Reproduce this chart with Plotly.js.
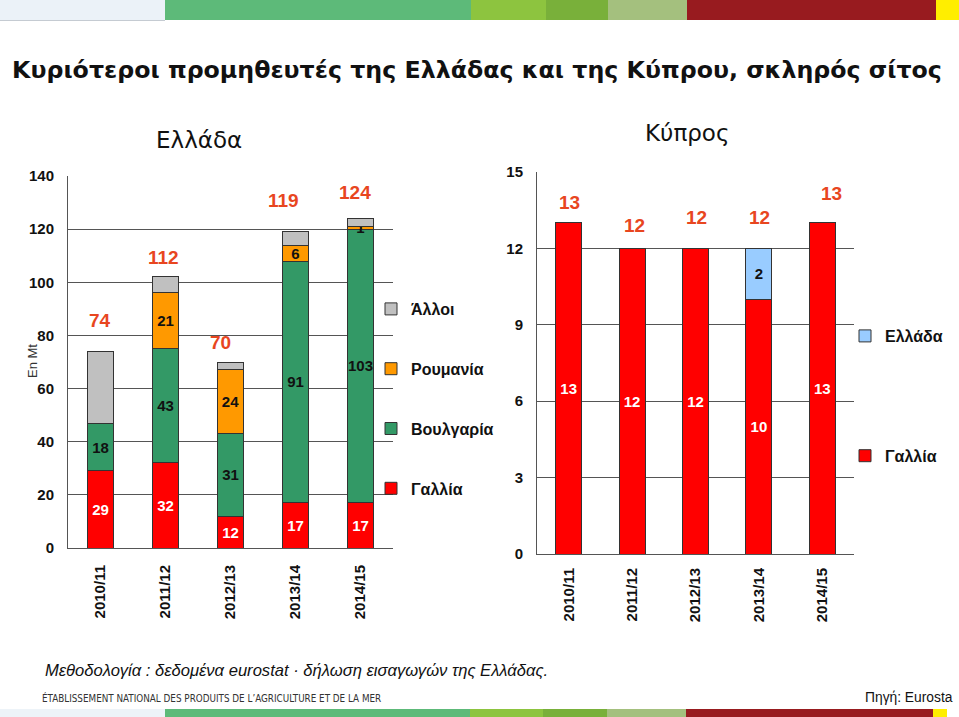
<!DOCTYPE html>
<html>
<head>
<meta charset="utf-8">
<script src="https://cdn.plot.ly/plotly-3.0.1.min.js"></script>
<style>html,body{margin:0;padding:0;background:#fff;}#chart{width:959px;height:717px;}</style>
</head>
<body>
<div id="chart"></div>
<script>
// ---- data ----
const seasons = ['2010/11', '2011/12', '2012/13', '2013/14', '2014/15'];
// Ελλάδα (Greece) suppliers
const grFrance   = [29, 32, 12, 17, 17];
const grBulgaria = [18, 43, 31, 91, 103];
const grRomania  = [0, 21, 24, 6, 1];
const grOthers   = [27, 6, 3, 5, 3];
const grTotals   = [74, 112, 70, 119, 124];
// Κύπρος (Cyprus) suppliers
const cyFrance   = [13, 12, 12, 10, 13];
const cyGreece   = [0, 0, 0, 2, 0];
const cyTotals   = [13, 12, 12, 12, 13];
// tick values
const grTicks = [0, 20, 40, 60, 80, 100, 120, 140];
const cyTicks = [0, 3, 6, 9, 12, 15];

// ---- presentation ----
const W = 959, H = 717;
const px = v => v / W;
const py = v => 1 - v / H;
const AR = 'Liberation Sans, Arial, sans-serif';
const TOTAL_COLOR = '#E8461F';
const GRID = '#555555';
// label placement (data-y for totals, pixel shift)
const grLabelY  = [85.8, 109.5, 77.5, 130.7, 133.7];
const grLabelDx = [-1, -2, -10, -12, -6];
const cyLabelY  = [13.8, 12.9, 13.2, 13.2, 14.15];
const cyLabelDx = [1, 2, 1, 1, 9];

const lbl = arr => arr.map(v => v ? String(v) : '');
const outline = {color: '#333333', width: 1};

function bar(name, y, color, xa, ya, legend, rank, text, tcolor) {
  return {
    type: 'bar', name: name, x: seasons, y: y,
    xaxis: xa, yaxis: ya, legend: legend, legendgroup: name + xa, legendrank: rank,
    marker: {color: color, line: outline},
    text: text, textposition: 'inside', insidetextanchor: 'middle',
    textangle: 0, constraintext: 'none',
    textfont: {family: AR, size: 15, color: tcolor, weight: 'bold'},
    hoverinfo: 'name+y'
  };
}

const traces = [
  bar('Γαλλία', grFrance, '#FF0000', 'x', 'y', 'legend', 4, lbl(grFrance), '#ffffff'),
  bar('Βουλγαρία', grBulgaria, '#339966', 'x', 'y', 'legend', 3, lbl(grBulgaria), '#111111'),
  bar('Ρουμανία', grRomania, '#FF9900', 'x', 'y', 'legend', 2, lbl(grRomania), '#111111'),
  bar('Άλλοι', grOthers, '#C0C0C0', 'x', 'y', 'legend', 1, seasons.map(() => ''), '#111111'),
  bar('Γαλλία', cyFrance, '#FF0000', 'x2', 'y2', 'legend2', 2, lbl(cyFrance), '#ffffff'),
  bar('Ελλάδα', cyGreece, '#99CCFF', 'x2', 'y2', 'legend2', 1, lbl(cyGreece), '#111111')
];

const annotations = [];
seasons.forEach((s, i) => {
  annotations.push({xref: 'x', yref: 'y', x: s, y: grLabelY[i], xshift: grLabelDx[i],
    text: String(grTotals[i]), showarrow: false,
    font: {family: AR, size: 19, color: TOTAL_COLOR, weight: 'bold'}});
  annotations.push({xref: 'x2', yref: 'y2', x: s, y: cyLabelY[i], xshift: cyLabelDx[i],
    text: String(cyTotals[i]), showarrow: false,
    font: {family: AR, size: 19, color: TOTAL_COLOR, weight: 'bold'}});
});
annotations.push(
  {xref: 'paper', yref: 'paper', x: px(32), xanchor: 'center', y: py(361), yanchor: 'middle',
   text: 'En Mt', textangle: -90, showarrow: false,
   font: {family: AR, size: 13, color: '#333'}},
  {xref: 'paper', yref: 'paper', x: px(199), xanchor: 'center', y: py(140), yanchor: 'middle',
   text: 'Ελλάδα', showarrow: false,
   font: {family: 'DejaVu Sans, sans-serif', size: 23, color: '#111'}},
  {xref: 'paper', yref: 'paper', x: px(687), xanchor: 'center', y: py(133), yanchor: 'middle',
   text: 'Κύπρος', showarrow: false,
   font: {family: 'DejaVu Sans, sans-serif', size: 23, color: '#111'}},
  {xref: 'paper', yref: 'paper', x: px(43), xanchor: 'left', y: py(670), yanchor: 'middle',
   text: '<i>Μεθοδολογία : δεδομένα eurostat · δήλωση εισαγωγών της Ελλάδας.</i>', showarrow: false,
   font: {family: AR, size: 16.6, color: '#111'}},
  {xref: 'paper', yref: 'paper', x: px(40), xanchor: 'left', y: py(698), yanchor: 'middle',
   text: 'ÉTABLISSEMENT NATIONAL DES PRODUITS DE L’AGRICULTURE ET DE LA MER', showarrow: false,
   font: {family: 'DejaVu Sans Condensed, Liberation Sans, sans-serif', size: 9.8, color: '#333'}},
  {xref: 'paper', yref: 'paper', x: px(955), xanchor: 'right', y: py(697), yanchor: 'middle',
   text: 'Πηγή: Eurosta', showarrow: false,
   font: {family: AR, size: 13.8, color: '#111'}}
);

// decorative banners
const topSegs = [[0, 165, '#EBF2F8'], [165, 471, '#5DBA79'], [471, 546, '#8DC43F'], [546, 608, '#79B03A'],
                 [608, 687, '#A4C07E'], [687, 936, '#981B1F'], [936, 959, '#FFEE00']];
const botSegs = [[0, 165, '#EDF3F8'], [165, 470, '#5DBA79'], [470, 543, '#8DC43F'], [543, 607, '#79B03A'],
                 [607, 686, '#A4C07E'], [686, 933, '#981B1F'], [933, 947, '#FFEE00']];
const shapes = [];
topSegs.forEach(s => shapes.push({type: 'rect', xref: 'paper', yref: 'paper', layer: 'below',
  x0: px(s[0]), x1: px(s[1]), y0: py(20), y1: py(0), fillcolor: s[2], line: {width: 0}}));
shapes.push({type: 'line', xref: 'paper', yref: 'paper', x0: 0, x1: px(165), y0: py(20.5), y1: py(20.5),
  line: {color: '#C5CBD2', width: 1}});
botSegs.forEach(s => shapes.push({type: 'rect', xref: 'paper', yref: 'paper', layer: 'below',
  x0: px(s[0]), x1: px(s[1]), y0: py(717), y1: py(709), fillcolor: s[2], line: {width: 0}}));

const tickFont = {family: AR, size: 15, color: '#111', weight: 'bold'};
const legendFont = {family: AR, size: 16, color: '#111', weight: 'bold'};

const layout = {
  width: W, height: H,
  margin: {l: 0, r: 0, t: 0, b: 0},
  paper_bgcolor: '#fff', plot_bgcolor: 'rgba(0,0,0,0)',
  barmode: 'stack', bargap: 0.59,
  title: {text: 'Κυριότεροι προμηθευτές της Ελλάδας και της Κύπρου, σκληρός σίτος',
          x: px(477), xanchor: 'center', y: py(70), yanchor: 'middle', yref: 'paper',
          font: {family: 'DejaVu Sans, sans-serif', size: 23.7, color: '#111', weight: 'bold'}},
  xaxis: {domain: [px(68), px(393)], anchor: 'y', type: 'category', tickangle: -90,
          tickfont: tickFont, ticks: '', ticklabelstandoff: 10,
          showline: true, linecolor: GRID, linewidth: 1, showgrid: false, fixedrange: true},
  yaxis: {domain: [py(548), py(176)], anchor: 'x', range: [0, 140], tickvals: grTicks,
          tickfont: tickFont, ticks: '', ticklabelstandoff: 10,
          showline: true, linecolor: GRID, linewidth: 1,
          showgrid: true, gridcolor: GRID, gridwidth: 1, zeroline: false, fixedrange: true},
  xaxis2: {domain: [px(537), px(854)], anchor: 'y2', type: 'category', tickangle: -90,
          tickfont: tickFont, ticks: '', ticklabelstandoff: 7,
          showline: true, linecolor: GRID, linewidth: 1, showgrid: false, fixedrange: true},
  yaxis2: {domain: [py(554), py(172)], anchor: 'x2', range: [0, 15], tickvals: cyTicks,
          tickfont: tickFont, ticks: '', ticklabelstandoff: 10,
          showline: true, linecolor: GRID, linewidth: 1,
          showgrid: true, gridcolor: GRID, gridwidth: 1, zeroline: false, fixedrange: true},
  legend: {x: px(371), xanchor: 'left', y: py(292), yanchor: 'top',
           traceorder: 'grouped', tracegroupgap: 36, font: legendFont,
           bgcolor: 'rgba(0,0,0,0)', itemclick: false, itemdoubleclick: false},
  legend2: {x: px(845), xanchor: 'left', y: py(319), yanchor: 'top',
           traceorder: 'grouped', tracegroupgap: 96, font: legendFont,
           bgcolor: 'rgba(0,0,0,0)', itemclick: false, itemdoubleclick: false},
  annotations: annotations,
  shapes: shapes
};

Plotly.newPlot('chart', traces, layout, {displayModeBar: false});
</script>
</body>
</html>
